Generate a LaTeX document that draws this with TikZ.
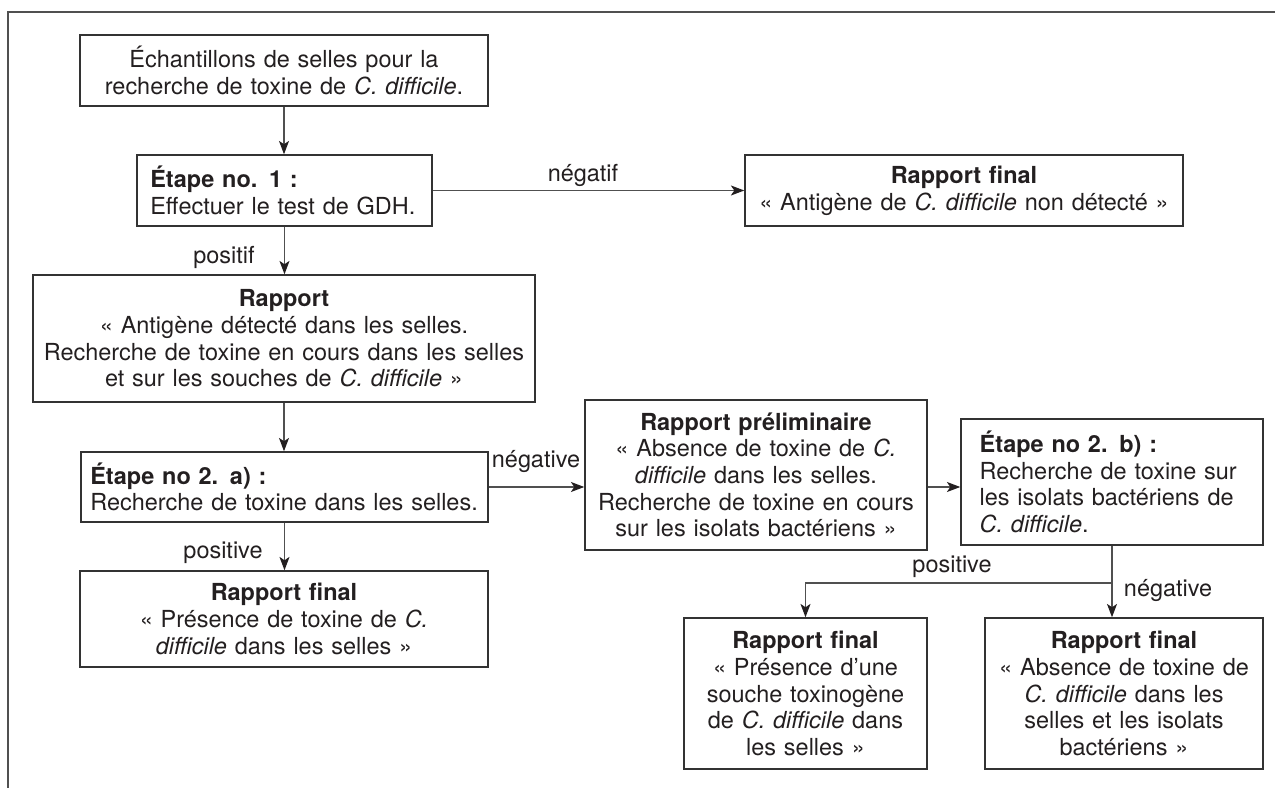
\documentclass[tikz,border=0pt]{standalone}
\usepackage{fontspec}
\setmainfont{TeX Gyre Heros}
\usetikzlibrary{arrows.meta}
\definecolor{ink}{HTML}{231F20}
\definecolor{edgec}{HTML}{333333}
\definecolor{connc}{HTML}{505050}
\begin{document}
\begin{tikzpicture}[x=0.75pt,y=-0.75pt,
  every node/.style={font=\fontsize{17.6pt}{20pt}\selectfont, text=ink},
  box/.style={draw=edgec, line width=1.1pt, inner ysep=2pt},
  cbox/.style={box, align=center, inner xsep=4pt},
  lbox/.style={box, align=left},
  lbl/.style={inner sep=0pt},
  conn/.style={draw=connc, line width=1pt},
  arr/.style={conn, -{Stealth[length=10pt,width=7.5pt,inset=2.5pt,color=ink]}}]
\useasboundingbox (0,0) rectangle (1275,788);
\draw[draw=connc, line width=1pt] (8,788) -- (8,12) -- (1275,12);

\node[cbox, text width=298pt, minimum height=53.25pt] (box1) at (284,70.5)
  {Échantillons de selles pour la\\recherche de toxine de \textit{C. difficile}.};
\node[lbox, inner xsep=10pt, text width=201.25pt, minimum height=53.25pt] (etape1) at (284.5,190.5)
  {\textbf{Étape no. 1 :}\\Effectuer le test de GDH.};
\node[cbox, text width=320.5pt, minimum height=53.25pt] (rf1) at (964,190.5)
  {\textbf{Rapport final}\\« Antigène de \textit{C. difficile} non détecté »};
\node[cbox, text width=368.5pt, minimum height=95.25pt] (rapport) at (284,338.5)
  {\textbf{Rapport}\\« Antigène détecté dans les selles.\\Recherche de toxine en cours dans les selles\\et sur les souches de \textit{C. difficile} »};
\node[lbox, inner xsep=7pt, text width=291.25pt, minimum height=52.5pt] (etape2a) at (284.5,487)
  {\textbf{Étape no 2. a) :}\\Recherche de toxine dans les selles.};
\node[cbox, text width=248.5pt, minimum height=112.5pt] (prelim) at (756,475)
  {\textbf{Rapport préliminaire}\\« Absence de toxine de \textit{C.}\\\textit{difficile} dans les selles.\\Recherche de toxine en cours\\sur les isolats bactériens »};
\node[lbox, inner xsep=14pt, text width=198.5pt, minimum height=94.5pt] (etape2b) at (1112,482)
  {\textbf{Étape no 2. b) :}\\Recherche de toxine sur\\les isolats bactériens de\\\textit{C. difficile}.};
\node[cbox, text width=298pt, minimum height=72pt] (rfbl) at (284,619)
  {\textbf{Rapport final}\\« Présence de toxine de \textit{C.}\\\textit{difficile} dans les selles »};
\node[cbox, text width=174.25pt, minimum height=113.25pt] (rfmid) at (805.5,693.5)
  {\textbf{Rapport final}\\« Présence d’une\\souche toxinogène\\de \textit{C. difficile} dans\\les selles »};
\node[cbox, text width=200.5pt, minimum height=113.25pt] (rfright) at (1124,693.5)
  {\textbf{Rapport final}\\« Absence de toxine de\\\textit{C. difficile} dans les\\selles et les isolats\\bactériens »};

\draw[arr] (box1.south) -- (box1.south |- etape1.north);
\draw[arr] (etape1.east) -- (etape1.east -| rf1.west);
\draw[arr] (etape1.south) -- (etape1.south |- rapport.north);
\draw[arr] (rapport.south) -- (rapport.south |- etape2a.north);
\draw[arr] (etape2a.east) -- (etape2a.east -| prelim.west);
\draw[arr] (etape2a.east -| prelim.east) -- (etape2a.east -| etape2b.west);
\draw[arr] (etape2a.south) -- (etape2a.south |- rfbl.north);
\coordinate (br) at (1112,583);
\draw[conn] (etape2b.south) -- (br);
\draw[arr] (br) -| (rfmid.north);
\draw[arr] (br) -- (br |- rfright.north);

\node[lbl] (neg1) at (583,175) {négatif};
\node[lbl] (pos1) at (224,257) {positif};
\node[lbl] (neg2) at (536,462) {négative};
\node[lbl] (pos2) at (223,553) {positive};
\node[lbl] (pos3) at (952,567) {positive};
\node[lbl] (neg3) at (1168,591) {négative};
\end{tikzpicture}
\end{document}
